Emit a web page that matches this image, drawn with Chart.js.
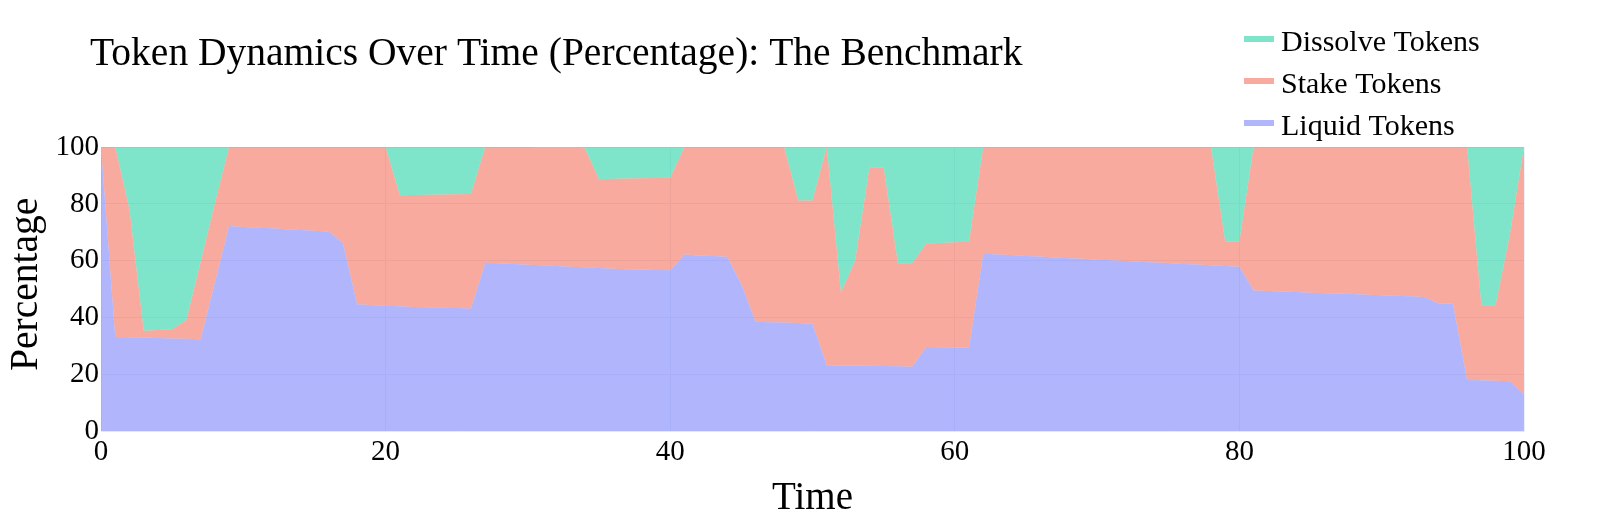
<!DOCTYPE html>
<html>
<head>
<meta charset="utf-8">
<script src="https://cdn.jsdelivr.net/npm/chart.js@4.4.1/dist/chart.umd.min.js"></script>
<style>
  html, body { margin:0; padding:0; background:#fff; }
  canvas { display:block; }
</style>
</head>
<body>
<canvas id="chart" width="1604" height="525"></canvas>
<script>
const TITLE = 'Token Dynamics Over Time (Percentage): The Benchmark';

const times = [
  0, 1, 2, 3, 4, 5, 6, 7, 8, 9, 10, 11, 12, 13, 14, 15, 16, 17, 18, 19, 20,
  21, 22, 23, 24, 25, 26, 27, 28, 29, 30, 31, 32, 33, 34, 35, 36, 37, 38, 39, 40,
  41, 42, 43, 44, 45, 46, 47, 48, 49, 50, 51, 52, 53, 54, 55, 56, 57, 58, 59, 60,
  61, 62, 63, 64, 65, 66, 67, 68, 69, 70, 71, 72, 73, 74, 75, 76, 77, 78, 79, 80,
  81, 82, 83, 84, 85, 86, 87, 88, 89, 90, 91, 92, 93, 94, 95, 96, 97, 98, 99, 100
];

// percentages, t = 0..100
const liquid = [
  100, 33.2, 33.1, 33.0, 32.9, 32.7, 32.6, 32.4, 52.3, 72.2, 71.9, 71.6, 71.4, 71.1, 70.8, 70.6, 70.3, 66.3, 44.7, 44.5, 44.2,
  44.0, 43.8, 43.7, 43.5, 43.4, 43.2, 59.3, 59.1, 58.9, 58.6, 58.4, 58.2, 57.9, 57.7, 57.5, 57.2, 57.0, 56.9, 56.8, 56.7,
  62.2, 61.9, 61.7, 61.4, 51.8, 38.6, 38.4, 38.3, 38.1, 37.9, 23.3, 23.2, 23.2, 23.1, 23.0, 22.9, 22.8, 29.7, 29.6, 29.5,
  29.5, 62.5, 62.2, 62.0, 61.7, 61.5, 61.2, 60.9, 60.7, 60.4, 60.2, 59.9, 59.7, 59.4, 59.2, 58.9, 58.7, 58.4, 58.2, 57.9,
  49.6, 49.4, 49.2, 49.0, 48.8, 48.6, 48.5, 48.3, 48.1, 47.9, 47.7, 47.5, 47.3, 45.0, 45.0, 18.1, 18.0, 17.8, 17.7, 13.1
];
const stake = [
  0, 66.8, 44.9, 2.4, 2.8, 3.2, 6.6, 27.2, 27.8, 27.8, 28.1, 28.4, 28.6, 28.9, 29.2, 29.4, 29.7, 33.7, 55.3, 55.5, 55.8,
  39.0, 39.3, 39.5, 39.8, 40.0, 40.3, 40.7, 40.9, 41.1, 41.4, 41.4, 41.5, 41.8, 41.9, 31.2, 31.6, 31.9, 32.1, 32.3, 32.5,
  37.8, 38.1, 38.3, 38.6, 48.2, 61.4, 61.6, 61.7, 43.1, 43.3, 76.7, 25.6, 37.0, 69.6, 69.7, 36.2, 36.3, 36.4, 36.7, 37.0,
  37.2, 37.5, 37.8, 38.0, 38.3, 38.5, 38.8, 39.1, 39.3, 39.6, 39.8, 40.1, 40.3, 40.6, 40.8, 41.1, 41.3, 41.6, 8.5, 8.8,
  50.4, 50.6, 50.8, 51.0, 51.2, 51.4, 51.5, 51.7, 51.9, 52.1, 52.3, 52.5, 52.7, 55.0, 55.0, 81.9, 26.4, 26.6, 51.3, 86.9
];
const dissolve = [
  0, 0, 22.0, 64.6, 64.3, 64.1, 60.8, 40.4, 19.9, 0, 0, 0, 0, 0, 0, 0, 0, 0, 0, 0, 0,
  17.0, 16.9, 16.8, 16.7, 16.6, 16.5, 0, 0, 0, 0, 0.2, 0.3, 0.3, 0.4, 11.3, 11.2, 11.1, 11.0, 10.9, 10.8,
  0, 0, 0, 0, 0, 0, 0, 0, 18.8, 18.8, 0, 51.2, 39.8, 7.3, 7.3, 40.9, 40.9, 33.9, 33.7, 33.5,
  33.3, 0, 0, 0, 0, 0, 0, 0, 0, 0, 0, 0, 0, 0, 0, 0, 0, 0, 33.3, 33.3,
  0, 0, 0, 0, 0, 0, 0, 0, 0, 0, 0, 0, 0, 0, 0, 0, 55.6, 55.6, 31.0, 0
];

const xTicks = [0, 20, 40, 60, 80, 100];
const yTicks = [0, 20, 40, 60, 80, 100];

const FONT = "'Liberation Serif', 'Times New Roman', serif";
const GRID = '#EBF0F8';

const series = (vals) => times.map((t, i) => ({ x: t, y: vals[i] }));
const area = (label, vals, color, fill) => ({
  label, data: series(vals), fill,
  backgroundColor: color, borderColor: 'transparent', borderWidth: 0,
  pointRadius: 0, pointHoverRadius: 0, tension: 0,
});

// title + legend (plotly style, legend in reversed trace order)
const overlay = {
  id: 'overlay',
  afterDraw(chart) {
    const ctx = chart.ctx;
    ctx.save();
    ctx.textBaseline = 'alphabetic';
    ctx.textAlign = 'left';
    ctx.fillStyle = '#000';
    ctx.font = `39.5px ${FONT}`;
    ctx.fillText(TITLE, 90, 65);

    ctx.font = `30px ${FONT}`;
    chart.data.datasets.slice().reverse().forEach((ds, i) => {
      const cy = 39 + i * 42;
      ctx.fillStyle = ds.backgroundColor;
      ctx.fillRect(1244, cy - 3, 30, 6);
      ctx.fillStyle = '#000';
      ctx.fillText(ds.label, 1281, cy + 12);
    });
    ctx.restore();
  }
};

new Chart(document.getElementById('chart'), {
  type: 'line',
  data: {
    datasets: [
      area('Liquid Tokens',   liquid,   'rgba(99,110,250,0.5)', 'origin'),
      area('Stake Tokens',    stake,    'rgba(239,85,59,0.5)',  '-1'),
      area('Dissolve Tokens', dissolve, 'rgba(0,204,150,0.5)',  '-1'),
    ]
  },
  options: {
    responsive: false, animation: false, devicePixelRatio: 1,
    layout: { padding: { left: 0, right: 80, top: 147, bottom: 0 } },
    plugins: { legend: { display: false }, title: { display: false }, tooltip: { enabled: false } },
    elements: { line: { borderWidth: 0 } },
    scales: {
      x: {
        type: 'linear', min: 0, max: 100,
        afterBuildTicks: s => { s.ticks = xTicks.map(v => ({ value: v })); },
        afterFit: s => { s.height = 93.5; },
        grid: { color: GRID, lineWidth: 1, drawTicks: false },
        border: { display: false },
        ticks: { color: '#000', font: { family: FONT, size: 29 }, padding: 3, maxRotation: 0 },
        title: { display: true, text: 'Time', color: '#000', font: { family: FONT, size: 39 }, padding: { top: 0, bottom: 3 } },
      },
      y: {
        stacked: true, min: 0, max: 100,
        afterBuildTicks: s => { s.ticks = yTicks.map(v => ({ value: v })); },
        afterFit: s => { s.width = 101; },
        grid: { color: GRID, lineWidth: 1, drawTicks: false },
        border: { display: false },
        ticks: { color: '#000', font: { family: FONT, size: 29 }, padding: 2 },
        title: { display: true, text: ' Percentage', color: '#000', font: { family: FONT, size: 39.5 }, padding: { top: 3, bottom: 0 } },
      }
    }
  },
  plugins: [overlay]
});
</script>
</body>
</html>
